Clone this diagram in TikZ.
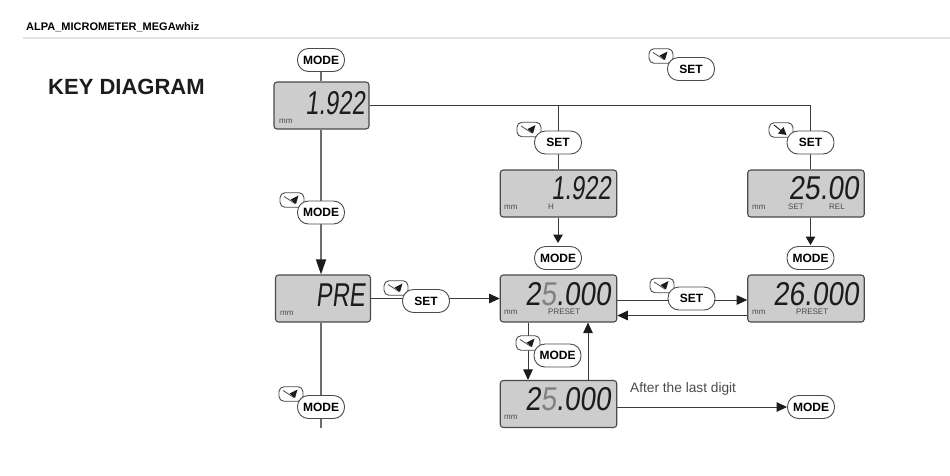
\documentclass[tikz,border=0pt]{standalone}
\usepackage{fontspec}
\setmainfont{Liberation Sans}
\newfontfamily\lcdfont[FakeSlant=0.12,FakeStretch=0.85]{Liberation Sans}
\newfontfamily\lcdschmal[FakeSlant=0.12,FakeStretch=0.72]{Liberation Sans}
\usepackage{tikz}
\usetikzlibrary{arrows.meta, backgrounds}
\definecolor{lcdgrau}{HTML}{CDCDCD}
\definecolor{linie}{HTML}{3A3A3A}
\definecolor{kante}{HTML}{4A4A4A}
\definecolor{hellgrau}{HTML}{E4E4E4}
\definecolor{ziffer}{HTML}{1C1C1C}

\begin{document}
\begin{tikzpicture}[
        x=1pt, y=-1pt,
        lcd/.style={draw=kante, line width=1.1pt, fill=lcdgrau, rounded corners=3pt,
                     minimum height=47pt, inner sep=0pt},
        lcdklein/.style={lcd, minimum width=95pt},
        lcdgross/.style={lcd, minimum width=116.5pt},
        digits/.style={anchor=base east, inner sep=0pt, text=ziffer,
                     font=\lcdfont\fontsize{33}{33}\selectfont},
        digitsk/.style={digits, font=\lcdschmal\fontsize{33}{33}\selectfont},
        tag/.style={anchor=west, inner sep=0pt, text=kante,
                     font=\fontsize{8}{8}\selectfont},
        pill/.style={draw=kante, line width=0.9pt, fill=white, rounded corners=11pt,
                     minimum width=47pt, minimum height=23pt, inner sep=0pt,
                     font=\bfseries\fontsize{12}{12}\selectfont},
        press/.style={draw=kante, line width=0.9pt, fill=white, rounded corners=5pt,
                     minimum width=24pt, minimum height=14.5pt, inner sep=0pt,
                     path picture={
                       \draw[sharp corners, kante, line width=0.8pt] (-8,-3.5) -- (3,3.5);
                       \fill[sharp corners, ziffer] (6.5,-4.5) -- (4,4) -- (-1.5,-0.5) -- cycle;}},
        pressab/.style={draw=kante, line width=0.9pt, fill=white, rounded corners=5pt,
                     minimum width=24pt, minimum height=14.5pt, inner sep=0pt,
                     path picture={
                       \draw[sharp corners, ziffer, line width=0.9pt] (-7,-5) -- (1,1.5);
                       \fill[sharp corners, ziffer] (5.5,5) -- (-3,3.5) -- (2.5,-3) -- cycle;}},
        lin/.style={draw=linie, line width=0.9pt},
        linv/.style={draw=kante!80, line width=1.4pt},
        arr/.style={lin, -{Triangle[length=10.5pt, width=9.5pt, color=ziffer]}},
        arrk/.style={lin, -{Triangle[length=8.5pt, width=9.5pt, color=ziffer]}},
        arrgross/.style={linv, -{Triangle[length=15pt, width=10pt, color=ziffer]}}
      ]
      \useasboundingbox (0,0) rectangle (950,475);

      % header
      \node[inner sep=0pt, anchor=west, font=\bfseries\fontsize{11}{11}\selectfont] (kopf) at (26,27) {ALPA\_MICROMETER\_MEGAwhiz};
      \coordinate (kopfl) at (23,38);
      \coordinate (kopfr) at (950,38);
      \draw[hellgrau, line width=2.4pt] (kopfl) -- (kopfr);
      \node[inner sep=0pt, anchor=west, text=ziffer, font=\bfseries\fontsize{22}{22}\selectfont] (titel) at (48,87) {KEY DIAGRAM};

      % displays
      \node[lcdklein] (anzeige) at (321.5,105.5) {};
      \node[lcdklein] (pre)     at (323,298.5) {};
      \node[lcdgross] (hold)    at (558.5,193.5) {};
      \node[lcdgross] (preset)  at (558.5,298.5) {};
      \node[lcdgross] (letzte)  at (558.5,404) {};
      \node[lcdgross] (rel)     at (806,193.5) {};
      \node[lcdgross] (presetb) at (806,298.5) {};

      \node[digitsk] (anzeigez) at (365,114) {1.922};
      \node[digitsk] (prez)     at (365,306) {PRE};
      \node[digitsk] (holdz)    at (611,199) {1.922};
      \node[digits]  (presetz)  at (611,305) {2\textcolor{gray}{5}.000};
      \node[digits]  (letztez)  at (611,410) {2\textcolor{gray}{5}.000};
      \node[digits]  (relz)     at (859,199) {25.00};
      \node[digits]  (presetbz) at (859,305) {26.000};

      \node[tag] (anzeigemm) at (279,121) {mm};
      \node[tag] (premm)     at (280,313) {mm};
      \node[tag] (holdmm)    at (504,207) {mm};
      \node[tag] (presetmm)  at (504,312) {mm};
      \node[tag] (letztemm)  at (504,417) {mm};
      \node[tag] (relmm)     at (752,207) {mm};
      \node[tag] (presetbmm) at (752,312) {mm};
      \node[tag] (holdh)     at (548,207) {H};
      \node[tag] (presetp)   at (548,312) {PRESET};
      \node[tag] (relset)    at (788,207) {SET};
      \node[tag] (relrel)    at (829,207) {REL};
      \node[tag] (presetbp)  at (796,312) {PRESET};

      % key symbols, then the keys on top of them
      \node[press]   (druckb)  at (292,200) {};
      \node[press]   (druckc)  at (291,394) {};
      \node[press]   (drucks)  at (396,288) {};
      \node[press]   (druckh)  at (529,129.5) {};
      \node[press]   (druckp)  at (662,285.5) {};
      \node[press]   (druckl)  at (528,343) {};
      \node[press]   (druckt)  at (661,56) {};
      \node[pressab] (druckr)  at (781,130) {};

      \node[pill] (modea)  at (321,60)    {MODE};
      \node[pill] (modeb)  at (321,212.5) {MODE};
      \node[pill] (modec)  at (321,407)   {MODE};
      \node[pill] (moded)  at (558,258)   {MODE};
      \node[pill] (modee)  at (557.5,355.5) {MODE};
      \node[pill] (modef)  at (810.5,258) {MODE};
      \node[pill] (modeg)  at (811,407)   {MODE};
      \node[pill] (setp)   at (426,301)   {SET};
      \node[pill] (seth)   at (558,142.5) {SET};
      \node[pill] (setm)   at (691.5,298.5) {SET};
      \node[pill] (sett)   at (691,69)    {SET};
      \node[pill] (setr)   at (810.5,142.5) {SET};

      \node[inner sep=0pt, anchor=west, text=kante, font=\fontsize{13.7}{14}\selectfont] (hinweis) at (630,389) {After the last digit};

      \coordinate (ende) at (321,428);

      \begin{scope}[on background layer]
        \draw[linv] (modea) -- (anzeige.north -| modea);
        \draw[linv] (anzeige.south -| modea) -- (modeb);
        \draw[arrgross] (modeb) -- (pre.north -| modeb);
        \draw[linv] (pre.south -| modec) -- (modec);
        \draw[linv] (modec) -- (ende);

        \draw[lin] (anzeige.east) -| (setr);
        \draw[lin] (anzeige.east -| seth) -- (seth);
        \draw[lin] (seth) -- (hold.north -| seth);
        \draw[lin] (setr) -- (rel.north -| setr);
        \draw[arrk] (hold.south -| moded) -- ([yshift=3pt]moded.north);
        \draw[arrk] (rel.south -| modef) -- ([yshift=1pt]modef.north);

        \draw[lin] (pre.east) -- (pre.east -| setp);
        \draw[arr] (preset.west -| setp) -- (preset.west);

        \draw[lin] ([yshift=-1.5pt]preset.east) -- ([yshift=-1.5pt]preset.east -| setm);
        \draw[arr] ([yshift=-1.5pt]presetb.west -| setm) -- ([yshift=-1.5pt]presetb.west);
        \draw[arr] ([yshift=-17pt]presetb.west) -- ([yshift=-17pt]preset.east);

        \draw[arr] (preset.south -| druckl) -- (letzte.north -| druckl);
        \draw[arr] (letzte.north -| 588,0) -- (preset.south -| 588,0);
        \draw[arr] (letzte.east |- modeg) -- (modeg.west);
      \end{scope}
    \end{tikzpicture}
\end{document}
